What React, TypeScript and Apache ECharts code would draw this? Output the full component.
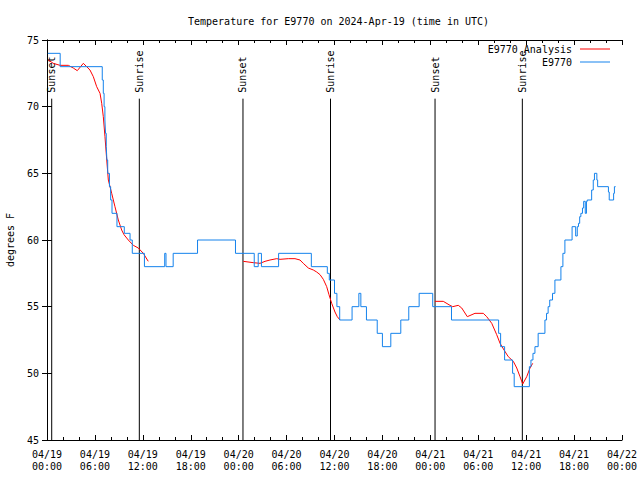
import React, { useEffect, useRef } from "react";
import * as echarts from "echarts";

// time in hours since 2024-04-19 00:00 UTC
const obsHours = [
  0.1, 1.65, 6.92, 7.05, 7.15, 7.25, 7.33, 7.42, 7.5, 7.6, 7.82, 7.97, 8.14, 8.76,
  9.68, 10.4, 10.68, 12.2, 14.74, 14.9, 15.8, 18.85, 23.6, 25.95, 26.45, 26.85,
  29.0, 33.1, 35.1, 35.35, 36.0, 36.3, 36.65, 38.2, 39.05, 39.3, 40.0, 41.35, 42.0,
  43.05, 44.3, 45.3, 46.6, 48.3, 50.65, 56.55, 56.8, 57.3, 58.3, 58.5, 60.4, 60.6,
  60.85, 61.1, 61.5, 62.35, 62.55, 62.75, 62.95, 63.3, 63.6, 64.35, 64.6, 64.85,
  65.75, 66.2, 66.4, 66.55, 66.7, 66.85, 67.05, 67.2, 67.4, 67.55, 67.65, 68.2,
  68.4, 68.55, 68.85, 68.95, 70.3, 70.4, 70.95, 71.05, 71.2,
];
const obsTemps = [
  74, 73, 72, 71, 70, 69, 68, 67, 66, 65, 64, 63, 62, 61,
  60.5, 60, 59, 58, 59, 58, 59, 60, 59, 58, 59, 58,
  59, 58, 57.5, 57, 56, 55, 54, 55, 56, 55, 54, 53, 52,
  53, 54, 55, 56, 55, 54, 53, 52, 51, 50, 49, 50.5, 51,
  51.5, 52, 53, 54, 54.5, 55, 55.5, 56, 57, 58, 59, 60,
  61, 60.3, 61, 61.25, 61.75, 62, 62.4, 62.9, 62, 62.9, 63, 63.75,
  64.5, 65, 64.5, 64, 63.6, 63, 63.5, 64, 64,
];

// analysis segments (null = gap)
const anaHours = [
  0.16, 0.79, 1.63, 2.67, 3.29, 3.79, 4.55, 4.97, 5.38, 5.8, 6.22, 6.64, 6.85, 7.05,
  7.26, 7.48, 7.68, 8.1, 8.51, 8.93, 9.35, 9.64, 10.18, 10.81, 11.43, 12.06, 12.68,
  18.0,
  24.58, 25.83, 26.67, 27.3, 27.92, 28.76, 29.18, 30.22, 31.05, 31.68, 32.09, 32.72,
  33.35, 33.77, 34.19, 34.6, 35.02, 35.31, 35.65, 36.06, 36.35, 36.69,
  42.0,
  48.58, 49.62, 50.46, 50.8, 51.5, 51.93, 52.63, 53.59, 54.63, 55.06, 55.69, 56.31,
  56.73, 57.23, 57.76, 58.39, 58.82, 59.23, 59.57, 60.07, 60.48, 60.82,
];
const anaTemps: (number | null)[] = [
  73.5, 73.25, 73.1, 73.1, 72.9, 72.7, 73.25, 73.0, 72.75, 72.25, 71.5, 71.0, 70.25, 69.25,
  67.75, 66, 64.5, 63.5, 62.5, 61.5, 60.75, 60.4, 60.0, 59.6, 59.4, 59.0, 58.4,
  null,
  58.4, 58.3, 58.25, 58.4, 58.5, 58.6, 58.55, 58.6, 58.6, 58.5, 58.25, 57.9,
  57.75, 57.6, 57.4, 57.05, 56.5, 55.9, 55.25, 54.6, 54.25, 54.0,
  null,
  55.4, 55.4, 55.1, 55.0, 55.1, 54.9, 54.25, 54.5, 54.5, 54.25, 53.75, 52.9,
  52.25, 51.75, 51.25, 50.9, 50.4, 49.75, 49.2, 49.75, 50.4, 50.75,
];

const eventHours = [0.59, 11.56, 24.54, 35.5, 48.59, 59.52];
const eventLabels = ["Sunset", "Sunrise", "Sunset", "Sunrise", "Sunset", "Sunrise"];
const EVENT_LINE_TOP = 70.6;

const X_MIN = 0;
const X_MAX = 72;
const X_STEP = 6;
const Y_MIN = 45;
const Y_MAX = 75;
const Y_STEP = 5;

const TITLE = "Temperature for E9770 on 2024-Apr-19 (time in UTC)";
const FONT = "DejaVu Sans Mono";

const pad = (n: number) => (n < 10 ? "0" + n : "" + n);
const xLabel = (v: number) => {
  const day = 19 + Math.floor(v / 24);
  const hh = Math.round(v % 24);
  return `04/${day}\n${pad(hh)}:00`;
};

export default function App() {
  const ref = useRef<HTMLDivElement>(null);
  useEffect(() => {
    if (!ref.current) return;
    const chart = echarts.init(ref.current, null, { renderer: "svg" });
    const txt = { color: "#000", fontFamily: FONT, fontSize: 10 };
    const axisLine = { show: true, lineStyle: { color: "#000", width: 1 } };
    const tick = { show: true, inside: true, length: 5, lineStyle: { color: "#000" } };
    const minor = { show: true, splitNumber: 3, length: 3, lineStyle: { color: "#000" } };
    chart.setOption({
      animation: false,
      backgroundColor: "#fff",
      title: {
        text: TITLE,
        left: 183,
        top: 11,
        textStyle: { ...txt, fontWeight: "normal" },
      },
      legend: {
        orient: "vertical",
        right: 30,
        top: 43,
        padding: 0,
        align: "right",
        icon: "rect",
        itemWidth: 30,
        itemHeight: 1,
        itemGap: 1,
        textStyle: { ...txt, lineHeight: 12, padding: [0, 3, 0, 0] },
        data: ["E9770 Analysis", "E9770"],
      },
      grid: {
        left: 47,
        right: 18,
        top: 40,
        bottom: 40,
        containLabel: false,
        outerBoundsMode: "none",
      },
      xAxis: [
        {
          type: "value",
          min: X_MIN,
          max: X_MAX,
          interval: X_STEP,
          axisLine,
          axisTick: tick,
          minorTick: minor,
          splitLine: { show: false },
          axisLabel: { ...txt, margin: 8, lineHeight: 12, formatter: xLabel },
        },
        {
          type: "value",
          position: "top",
          min: X_MIN,
          max: X_MAX,
          interval: X_STEP,
          axisLine,
          axisTick: tick,
          minorTick: minor,
          splitLine: { show: false },
          axisLabel: { show: false },
        },
      ],
      yAxis: [
        {
          type: "value",
          min: Y_MIN,
          max: Y_MAX,
          interval: Y_STEP,
          axisLine,
          axisTick: tick,
          splitLine: { show: false },
          axisLabel: { ...txt, margin: 8 },
          name: "degrees F",
          nameLocation: "middle",
          nameGap: 32,
          nameRotate: 90,
          nameTextStyle: { ...txt },
        },
        {
          type: "value",
          position: "right",
          min: Y_MIN,
          max: Y_MAX,
          interval: Y_STEP,
          axisLine,
          axisTick: tick,
          splitLine: { show: false },
          axisLabel: { show: false },
        },
      ],
      series: [
        {
          type: "custom",
          name: "events",
          xAxisIndex: 0,
          yAxisIndex: 0,
          silent: true,
          data: eventHours.map((h) => [h, Y_MIN]),
          renderItem: (params: any, api: any) => {
            const x = api.value(0);
            const p0 = api.coord([x, Y_MIN]);
            const p1 = api.coord([x, EVENT_LINE_TOP]);
            return {
              type: "group",
              children: [
                {
                  type: "line",
                  shape: { x1: p0[0], y1: p0[1], x2: p1[0], y2: p1[1] },
                  style: { stroke: "#000", lineWidth: 1 },
                },
                {
                  type: "text",
                  x: p1[0],
                  y: p1[1] - 6,
                  rotation: Math.PI / 2,
                  style: {
                    text: eventLabels[params.dataIndex],
                    fill: "#000",
                    font: `10px "${FONT}"`,
                    align: "left",
                    verticalAlign: "middle",
                  },
                },
              ],
            };
          },
        },
        {
          type: "line",
          name: "E9770 Analysis",
          data: anaHours.map((h, i) => [h, anaTemps[i]]),
          connectNulls: false,
          symbol: "none",
          lineStyle: { color: "#ff0000", width: 1 },
          itemStyle: { color: "#ff0000" },
        },
        {
          type: "line",
          name: "E9770",
          step: "end",
          data: obsHours.map((h, i) => [h, obsTemps[i]]),
          symbol: "none",
          lineStyle: { color: "#1482ec", width: 1 },
          itemStyle: { color: "#1482ec" },
        },
      ],
    });
    return () => chart.dispose();
  }, []);
  return (
    <div
      ref={ref}
      style={{ position: "absolute", left: 0, top: 0, width: 640, height: 480 }}
    />
  );
}
